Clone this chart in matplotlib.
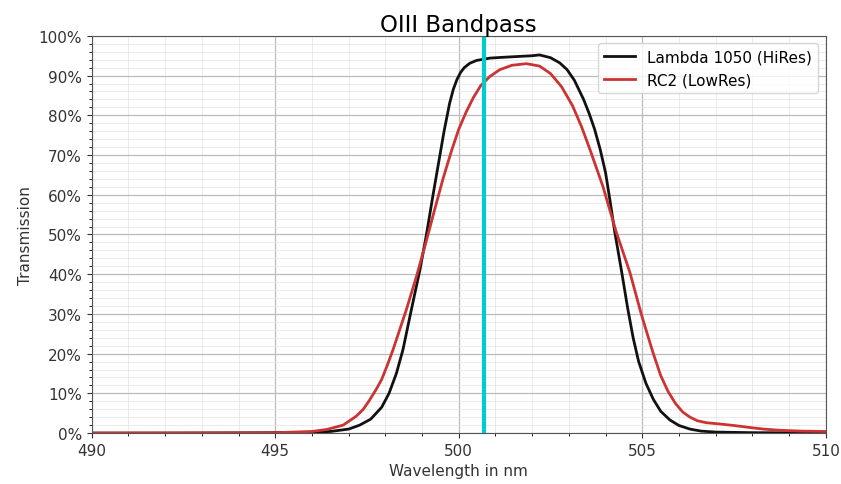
import numpy as np
import matplotlib
matplotlib.use("Agg")
import matplotlib.pyplot as plt
from matplotlib.ticker import MultipleLocator, PercentFormatter

# Lambda 1050 (HiRes) readings: wavelength (nm), transmission (%)
wl_hires = [490, 492, 494, 495, 496, 496.5, 497, 497.3, 497.6, 497.9, 498.1, 498.3,
            498.48, 498.65, 498.8, 498.94, 499.12, 499.3, 499.45, 499.6, 499.75, 499.85,
            499.95, 500.05, 500.15, 500.3, 500.48, 500.85, 501.2, 501.6, 502.0, 502.2,
            502.5, 502.75, 502.95, 503.15, 503.4, 503.55, 503.7, 503.85, 504.0, 504.12,
            504.25, 504.43, 504.6, 504.75, 504.9, 505.1, 505.3, 505.5, 505.75, 506.0,
            506.3, 506.6, 507, 508, 510]
tr_hires = [0, 0, 0.05, 0.1, 0.2, 0.4, 1.0, 2.0, 3.5, 6.5, 10, 15,
            21, 28.5, 35, 41, 50, 60, 68, 76, 83, 86.5,
            89, 90.8, 92, 93.1, 93.8, 94.4, 94.6, 94.8, 95.0, 95.2,
            94.5, 93.2, 91.5, 88.8, 84, 80.5, 76.5, 71.5, 65.5, 58.5,
            50.6, 41, 31.5, 24, 18, 12.5, 8.5, 5.5, 3.3, 1.9,
            1.0, 0.5, 0.25, 0.1, 0.05]

# RC2 (LowRes) readings
wl_lowres = [490, 494, 495, 496.0, 496.4, 496.85, 497.2, 497.4, 497.57, 497.75, 497.9,
             498.05, 498.21, 498.57, 498.85, 499.12, 499.35, 499.57, 499.8, 500.0, 500.2,
             500.4, 500.6, 500.85, 501.12, 501.45, 501.84, 502.2, 502.5, 502.8, 503.1,
             503.35, 503.57, 503.93, 504.29, 504.66, 504.97, 505.15, 505.3, 505.5, 505.7,
             505.9, 506.1, 506.3, 506.5, 506.75, 507.1, 507.5, 507.84, 508.3, 508.75,
             509.3, 510]
tr_lowres = [0, 0.05, 0.1, 0.4, 0.9, 2.0, 4.2, 6.0, 8.3, 11, 13.5,
             17, 21, 31, 39.5, 48.5, 56.5, 64, 71, 76.5, 80.8,
             84.5, 87.5, 89.8, 91.5, 92.6, 93, 92.4, 90.5, 87.2, 82.4,
             77, 71.5, 62, 50.6, 40.5, 30, 24.5, 20, 14.5, 10.5,
             7.5, 5.3, 4.0, 3.1, 2.6, 2.3, 1.9, 1.5, 1.0, 0.7,
             0.5, 0.4]

oiii_line = 500.7

fig = plt.figure(figsize=(8.41, 4.85), dpi=100)
ax = fig.add_axes([0.109, 0.105, 0.873, 0.819])

ax.plot(wl_hires, tr_hires, color='#111111', lw=2, label='Lambda 1050 (HiRes)')
ax.plot(wl_lowres, tr_lowres, color='#cc3333', lw=2, label='RC2 (LowRes)')
ax.axvline(oiii_line, color='#00cccc', lw=3)

ax.set_xlim(490, 510)
ax.set_ylim(0, 100)
ax.xaxis.set_major_locator(MultipleLocator(5))
ax.xaxis.set_minor_locator(MultipleLocator(1))
ax.yaxis.set_major_locator(MultipleLocator(10))
ax.yaxis.set_minor_locator(MultipleLocator(2))
ax.yaxis.set_major_formatter(PercentFormatter(xmax=100, decimals=0))
ax.grid(which='major', color='#bbbbbb', lw=0.9)
ax.grid(which='minor', color='#e8e8e8', lw=0.6)
ax.tick_params(labelsize=11, colors='#333333')
for s in ax.spines.values():
    s.set_color('#555555')

ax.set_title('OIII Bandpass', fontsize=16.5, pad=3)
ax.set_xlabel('Wavelength in nm', fontsize=11, color='#333333')
ax.set_ylabel('Transmission', fontsize=11, color='#333333')
ax.legend(loc='upper right', fontsize=11)

fig.savefig('out.png', dpi=100)
